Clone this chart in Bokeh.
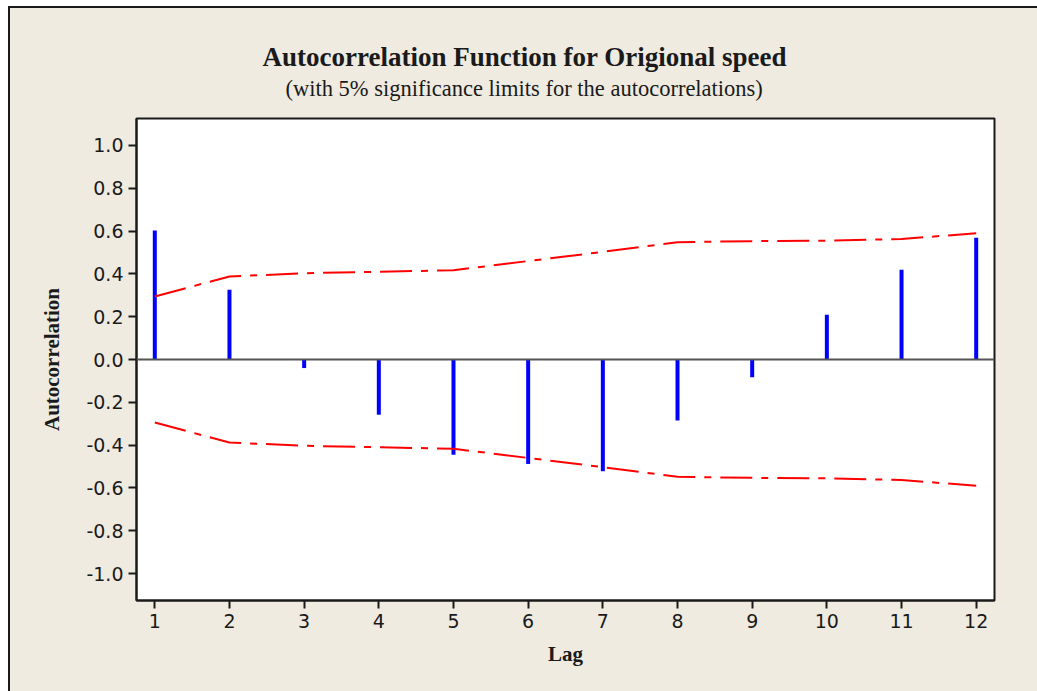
from bokeh.plotting import figure
from bokeh.models import Range1d, FixedTicker, NumeralTickFormatter, Span, Title
from bokeh.embed import file_html
from bokeh.resources import INLINE

# Sample autocorrelations by lag, with the 5% significance limit
lags = [1, 2, 3, 4, 5, 6, 7, 8, 9, 10, 11, 12]
acf = [0.603, 0.326, -0.040, -0.258, -0.445, -0.488, -0.522, -0.285, -0.083, 0.209, 0.419, 0.569]
upper_limit = [0.294, 0.388, 0.403, 0.410, 0.417, 0.460, 0.503, 0.548, 0.553, 0.555, 0.563, 0.590]
lower_limit = [-v for v in upper_limit]
y_ticks = [-1.0, -0.8, -0.6, -0.4, -0.2, 0.0, 0.2, 0.4, 0.6, 0.8, 1.0]

BG = "#efebe1"
INK = "#1a1a1a"

p = figure(
    width=1037, height=691,
    x_range=Range1d(0.755, 12.245), y_range=Range1d(-1.126, 1.126),
    output_backend="svg", toolbar_location=None, title_location=None,
    min_border_left=136, min_border_right=43, min_border_top=118, min_border_bottom=91,
    background_fill_color="white", border_fill_color=None,
)
# panel colour with a white margin and a dark edge on the left and top
p.styles = {
    "background-color": BG,
    "box-shadow": f"inset 8px 6px 0 0 white, inset 10px 8px 0 0 {INK}",
}

p.outline_line_color = INK
p.outline_line_width = 2
p.xgrid.visible = False
p.ygrid.visible = False

# zero reference line
p.add_layout(Span(location=0, dimension="width", line_color="#555555", line_width=2))

# autocorrelation spikes
p.segment(x0=lags, y0=[0] * len(lags), x1=lags, y1=acf,
          line_color="#0000ff", line_width=4, line_cap="butt")

# significance limits
dash = "32 9 7 9"
p.line(lags, upper_limit, line_color="#ff0000", line_width=2, line_dash=dash)
p.line(lags, lower_limit, line_color="#ff0000", line_width=2, line_dash=dash)

for ax in (p.xaxis[0], p.yaxis[0]):
    ax.axis_line_color = INK
    ax.axis_line_width = 2
    ax.major_tick_line_color = INK
    ax.major_tick_line_width = 2
    ax.major_tick_out = 8
    ax.major_tick_in = 0
    ax.minor_tick_line_color = None
    ax.major_label_standoff = 5
    ax.major_label_text_font = "DejaVu Sans"
    ax.major_label_text_font_size = "19px"
    ax.major_label_text_color = INK
    ax.axis_label_text_font = "Liberation Serif"
    ax.axis_label_text_font_style = "bold"
    ax.axis_label_text_font_size = "21px"
    ax.axis_label_text_color = INK

p.xaxis.ticker = FixedTicker(ticks=lags)
p.yaxis.ticker = FixedTicker(ticks=y_ticks)
p.yaxis.formatter = NumeralTickFormatter(format="0.0")
p.xaxis.axis_label = "Lag"
p.yaxis.axis_label = "Autocorrelation"
p.xaxis.axis_label_standoff = 11
p.yaxis.axis_label_standoff = 19

# subtitle sits next to the frame, main title above it
p.add_layout(Title(text="(with 5% significance limits for the autocorrelations)",
                   align="left", offset=149, standoff=35,
                   text_font="Liberation Serif", text_font_style="normal",
                   text_font_size="22.5px", text_color=INK), "above")
p.add_layout(Title(text="Autocorrelation Function for Origional speed",
                   align="left", offset=126, standoff=-30,
                   text_font="Liberation Serif", text_font_style="bold",
                   text_font_size="27px", text_color=INK), "above")

open("out.html", "w").write(file_html(p, INLINE))
